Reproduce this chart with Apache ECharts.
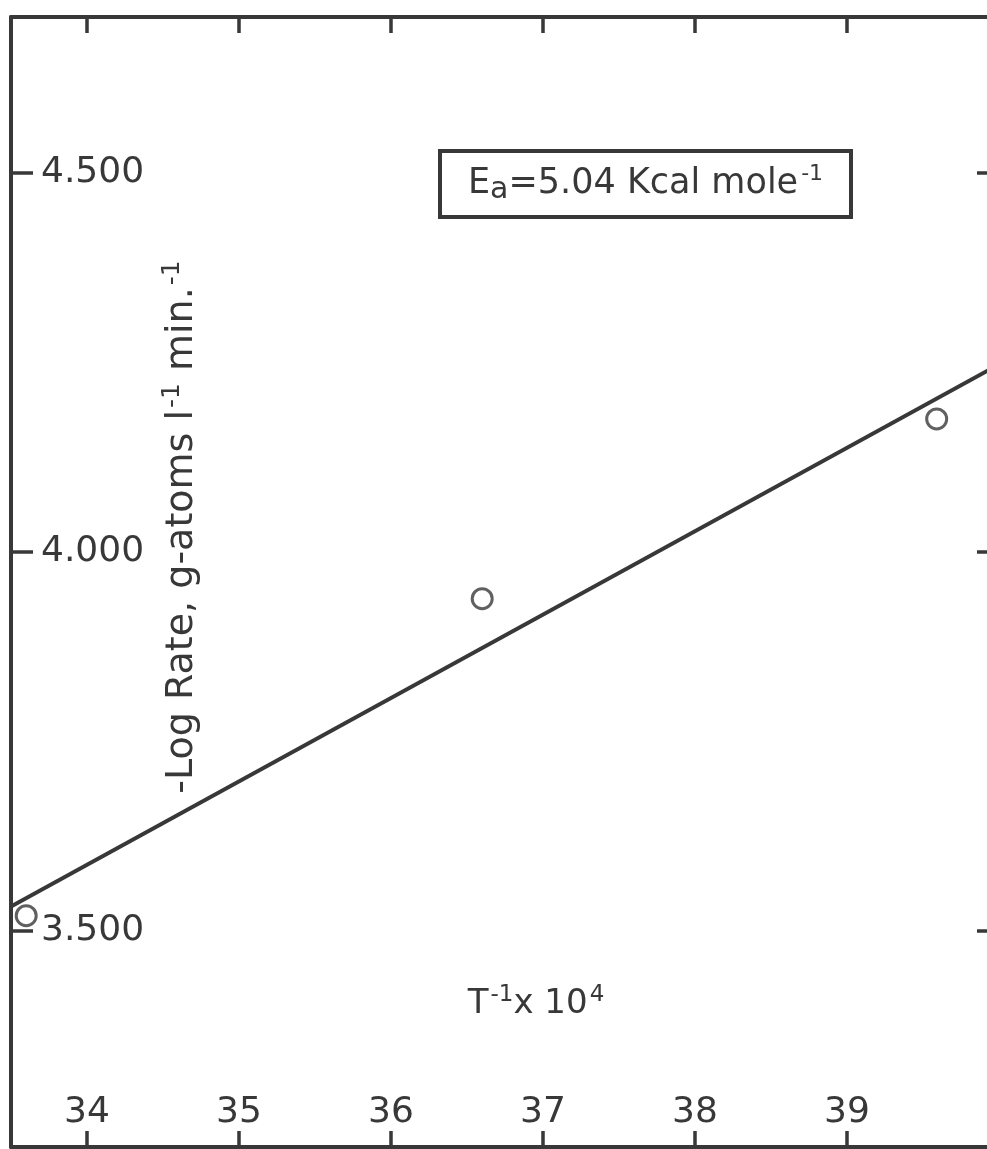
<!DOCTYPE html>
<html>
<head>
<meta charset="utf-8">
<script src="https://cdn.jsdelivr.net/npm/echarts@6/dist/echarts.min.js"></script>
<style>
  html, body { margin: 0; padding: 0; background: #fff; }
  #chart { width: 987px; height: 1149px; }
</style>
</head>
<body>
<div id="chart"></div>
<script>
// measured points: 1/T x 10^4 vs -log rate
const tInv = [33.60, 36.60, 39.59];
const logRate = [3.520, 3.938, 4.175];
// least squares line drawn through the chart
const fitX = [33.5, 40];
const fitY = [3.532, 4.247];
const xTicks = [34, 35, 36, 37, 38, 39];
const yTicks = [3.5, 4.0, 4.5];

const ink = '#383838';
const font = 'DejaVu Sans';

const chart = echarts.init(document.getElementById('chart'));

const option = {
  animation: false,
  backgroundColor: '#fff',
  title: {
    left: 440,
    top: 151,
    borderColor: ink,
    borderWidth: 4,
    padding: [12, 28, 12, 28],
    text: 'E{sub|a}=5.04 Kcal mole{sup|-1}',
    textStyle: {
      color: ink,
      fontFamily: font,
      fontSize: 35,
      fontWeight: 'normal',
      rich: {
        sub: { fontSize: 30, fontFamily: font, color: ink, padding: [12, 0, 0, 0] },
        sup: { fontSize: 22, fontFamily: font, color: ink, padding: [0, 0, 20, 3] }
      }
    }
  },
  grid: {
    left: 11,
    top: 17,
    right: -12,
    bottom: 2,
    containLabel: false,
    outerBoundsMode: 'none'
  },
  xAxis: [
    {
      type: 'value',
      position: 'bottom',
      min: 33.5,
      max: 40,
      name: 'T{s|-1}x 10{s|4}',
      nameLocation: 'middle',
      nameGap: -163,
      nameTextStyle: {
        color: ink,
        fontFamily: font,
        fontSize: 34,
        padding: [0, 0, 0, 62],
        rich: { s: { fontSize: 23, fontFamily: font, color: ink, padding: [0, 0, 17, 2] } }
      },
      axisLine: { lineStyle: { color: ink, width: 4 } },
      axisTick: { inside: true, length: 16, lineStyle: { color: ink, width: 3.5 }, customValues: xTicks },
      axisLabel: { inside: true, margin: 16, color: ink, fontFamily: font, fontSize: 36, customValues: xTicks },
      splitLine: { show: false }
    },
    {
      type: 'value',
      position: 'top',
      min: 33.5,
      max: 40,
      axisLine: { lineStyle: { color: ink, width: 4 } },
      axisTick: { inside: true, length: 16, lineStyle: { color: ink, width: 3.5 }, customValues: xTicks },
      axisLabel: { show: false },
      splitLine: { show: false }
    }
  ],
  yAxis: [
    {
      type: 'value',
      position: 'left',
      min: 3.215,
      max: 4.705,
      name: '-Log Rate, g-atoms l{s|-1} min.{s|-1}',
      nameLocation: 'middle',
      nameRotate: 90,
      nameGap: -193,
      nameTextStyle: {
        color: ink,
        fontFamily: font,
        fontSize: 38,
        padding: [0, 0, 0, 110],
        rich: { s: { fontSize: 25, fontFamily: font, color: ink, padding: [0, 0, 19, 2] } }
      },
      axisLine: { lineStyle: { color: ink, width: 4 } },
      axisTick: { inside: true, length: 22, lineStyle: { color: ink, width: 3.5 }, customValues: yTicks },
      axisLabel: {
        inside: true,
        margin: 30,
        color: ink,
        fontFamily: font,
        fontSize: 36,
        customValues: yTicks,
        formatter: v => v.toFixed(3)
      },
      splitLine: { show: false }
    },
    {
      type: 'value',
      position: 'right',
      min: 3.215,
      max: 4.705,
      axisLine: { lineStyle: { color: ink, width: 4 } },
      axisTick: { inside: true, length: 22, lineStyle: { color: ink, width: 3.5 }, customValues: yTicks },
      axisLabel: { show: false },
      splitLine: { show: false }
    }
  ],
  series: [
    {
      type: 'line',
      data: fitX.map((x, i) => [x, fitY[i]]),
      symbol: 'none',
      lineStyle: { color: ink, width: 4 },
      z: 3
    },
    {
      type: 'scatter',
      data: tInv.map((x, i) => [x, logRate[i]]),
      symbol: 'circle',
      symbolSize: 20,
      itemStyle: { color: '#fff', borderColor: ink, borderWidth: 3 },
      z: 4
    }
  ]
};

chart.setOption(option);
</script>
</body>
</html>
